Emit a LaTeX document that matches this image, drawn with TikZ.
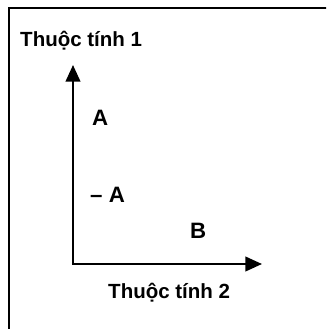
\documentclass[tikz,border=0pt]{standalone}
\usepackage{fontspec}
\setmainfont{Liberation Sans}
\usepackage{tikz}
\usetikzlibrary{arrows.meta,positioning}

\begin{document}
\begin{tikzpicture}[
  x=0.03cm, y=-0.03cm,
  every node/.style={font=\fontsize{17.5}{21}\selectfont\bfseries, inner sep=0pt},
  ax/.style={-{Triangle[length=5mm,width=4.4mm]}, line width=1.8pt},
  lbl/.style={anchor=base west},
  pt/.style={anchor=base west, font=\fontsize{19}{22}\selectfont\bfseries}
]
\useasboundingbox (0,0) rectangle (326,329);
\begin{scope}
  \clip (0,0) rectangle (326,329);
  \draw[line width=1.6pt] (9,8) rectangle (345,345);
\end{scope}

\coordinate (origin) at (73,264);
\coordinate (ytip) at (73,65);
\coordinate (xtip) at (262,264);
\draw[ax] (origin) -- (ytip);
\draw[ax] (origin.center) ++(-0.9pt,0) -- (xtip);

\node[lbl] (attr1) at (20,46.7) {Thuộc tính 1};
\node[lbl] (attr2) at (108,298) {Thuộc tính 2};
\node[pt] (pA)    at (92,125)  {A};
\node[pt] (pnotA) at (90,202)  {– A};
\node[pt] (pB)    at (190,238) {B};
\end{tikzpicture}
\end{document}
